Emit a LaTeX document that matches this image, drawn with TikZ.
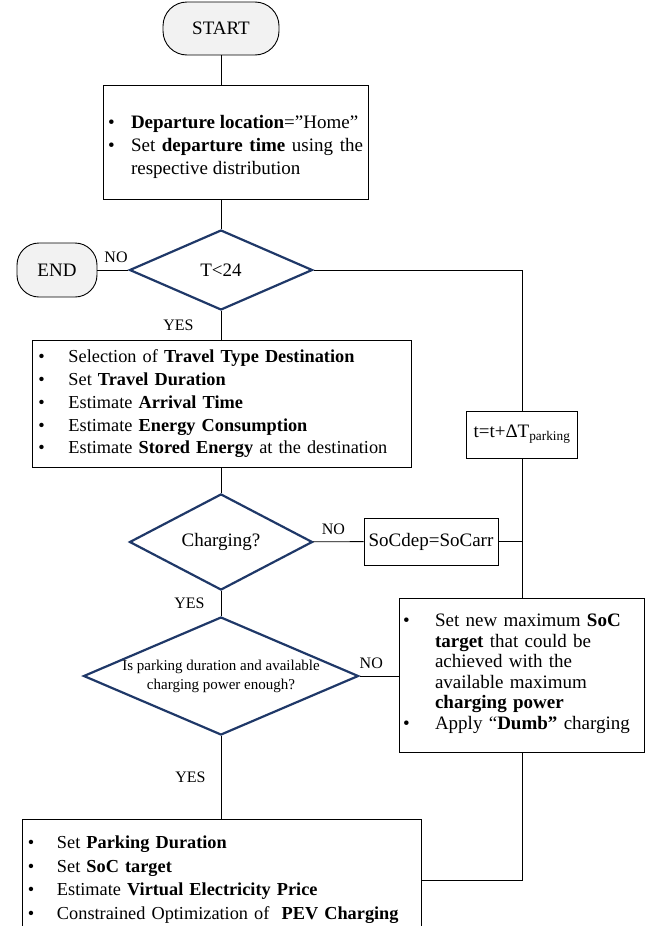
\documentclass[tikz,border=0pt]{standalone}
\usepackage{fontspec}
\setmainfont{Liberation Serif}
\usepackage{tikz}
\usetikzlibrary{
    arrows.meta,
    positioning,
    calc,
    shapes.geometric
}

\newenvironment{bulletlist}[1]{%
  \begin{list}{\textbullet}{%
    \setlength{\leftmargin}{#1}%
    \setlength{\labelwidth}{#1}%
    \setlength{\labelsep}{0pt}%
    \setlength{\itemindent}{0pt}%
    \setlength{\topsep}{0pt}%
    \setlength{\partopsep}{0pt}%
    \setlength{\parsep}{0pt}%
    \setlength{\itemsep}{0pt}%
    \renewcommand{\makelabel}[1]{##1\hfil}}}%
  {\end{list}}

\tikzset{
    term/.style={draw,fill=termfill,line width=0.9bp,rounded corners=24bp,
        minimum height=53bp,font=\fontsize{19bp}{22bp}\selectfont},
    procbox/.style={draw,rectangle,line width=0.9bp,inner sep=0bp,
        font=\fontsize{19bp}{22.7bp}\selectfont},
    decide/.style={draw=decidecolor,diamond,line width=2.2bp,inner sep=0bp,
        minimum width=183bp,minimum height=80bp,font=\fontsize{19bp}{22bp}\selectfont},
    yesno/.style={font=\fontsize{16bp}{18bp}\selectfont,inner sep=0bp},
    flow/.style={line width=0.9bp}
}

\begin{document}
\begin{tikzpicture}[x=1bp,y=-1bp]
            \definecolor{termfill}{HTML}{F2F2F2}
            \definecolor{decidecolor}{HTML}{1F3868}
            \useasboundingbox (0,0) rectangle (659,926);
            \clip (0,0) rectangle (659,926);

            \node[term,minimum width=116bp] (start) at (221,28.5) {START};
            \node[procbox,minimum width=265bp,minimum height=114bp,text width=255bp,align=justify,
                font=\fontsize{19bp}{23bp}\selectfont] (init) at (235.5,142) {%
                \begin{bulletlist}{23bp}
                \item \textbf{Departure location}=”Home”
                \item Set \textbf{departure time} using the respective distribution
                \end{bulletlist}};
            \node[decide] (t24) at (221,270) {T<24};
            \node[term,minimum width=80bp,minimum height=54bp,rounded corners=22bp] (end) at (57,270) {END};
            \node[procbox,minimum width=379bp,minimum height=114bp,text width=366bp,align=left,
                font=\fontsize{18.3bp}{22.7bp}\selectfont] (travel) at (221.5,404) {%
                \begin{bulletlist}{30bp}
                \item Selection of \textbf{Travel Type Destination}
                \item Set \textbf{Travel Duration}
                \item Estimate \textbf{Arrival Time}
                \item Estimate \textbf{Energy Consumption}
                \item Estimate \textbf{Stored Energy} at the destination
                \end{bulletlist}\par\kern10bp};
            \node[decide] (charge) at (221,542) {Charging?};
            \node[procbox,minimum width=134bp,minimum height=47bp] (socdep) at (431,541.5) {SoCdep=SoCarr};
            \node[procbox,minimum width=111bp,minimum height=47bp] (tpark) at (522,434.5) {t=t+ΔT\textsubscript{parking}};
            \node[decide,minimum width=275bp,minimum height=118bp] (park) at (221,676) {};
            \node[font=\fontsize{15bp}{19bp}\selectfont,align=center,inner sep=0bp] (parktext) at (park)
                {Is parking duration and available\\charging power enough?};
            \node[procbox,minimum width=245bp,minimum height=154bp,text width=237bp,align=left,
                font=\fontsize{19bp}{20.5bp}\selectfont] (newsoc) at (521.5,675) {%
                \begin{bulletlist}{32bp}
                \item Set new maximum \textbf{SoC}\newline\textbf{target} that could be\newline
                    achieved with the\newline available maximum\newline\textbf{charging power}
                \item Apply “\textbf{Dumb”} charging
                \end{bulletlist}\par\kern10bp};
            \node[procbox,anchor=north,minimum width=399bp,text width=387bp,inner xsep=6bp,inner ysep=6bp,
                align=left,font=\fontsize{18.3bp}{23.5bp}\selectfont] (optim) at (221.5,819) {%
                \begin{bulletlist}{29bp}
                \item Set \textbf{Parking Duration}
                \item Set \textbf{SoC target}
                \item Estimate \textbf{Virtual Electricity Price}
                \item Constrained Optimization of\ \ \textbf{PEV Charging}
                \end{bulletlist}\par\kern16bp};

            \draw[flow] (start) -- (init.north -| start);
            \draw[flow] (init.south -| start) -- (t24);
            \draw[flow] (end) -- node[yesno,above=7bp,pos=0.6] {NO} (t24);
            \draw[flow] (t24) -- node[yesno,left=27bp] {YES} (travel.north -| t24);
            \draw[flow] (t24) -| (tpark);
            \draw[flow] (travel.south -| charge) -- (charge);
            \draw[flow] (charge) -- node[yesno,above=7bp,pos=0.4] {NO} (socdep);
            \draw[flow] (socdep) -- (socdep -| tpark);
            \draw[flow] (tpark) -- (tpark |- newsoc.north);
            \draw[flow] (charge) -- node[yesno,left=16bp] {YES} (park);
            \draw[flow] (park.east) -- node[yesno,above=7bp,pos=0.3] {NO} (park.east -| newsoc.west);
            \draw[flow] (park) -- node[yesno,left=15bp] {YES} (optim.north -| park);
            \draw[flow] (newsoc.south -| tpark) |- ($(optim.north east)+(0,61)$);
        \end{tikzpicture}
\end{document}
